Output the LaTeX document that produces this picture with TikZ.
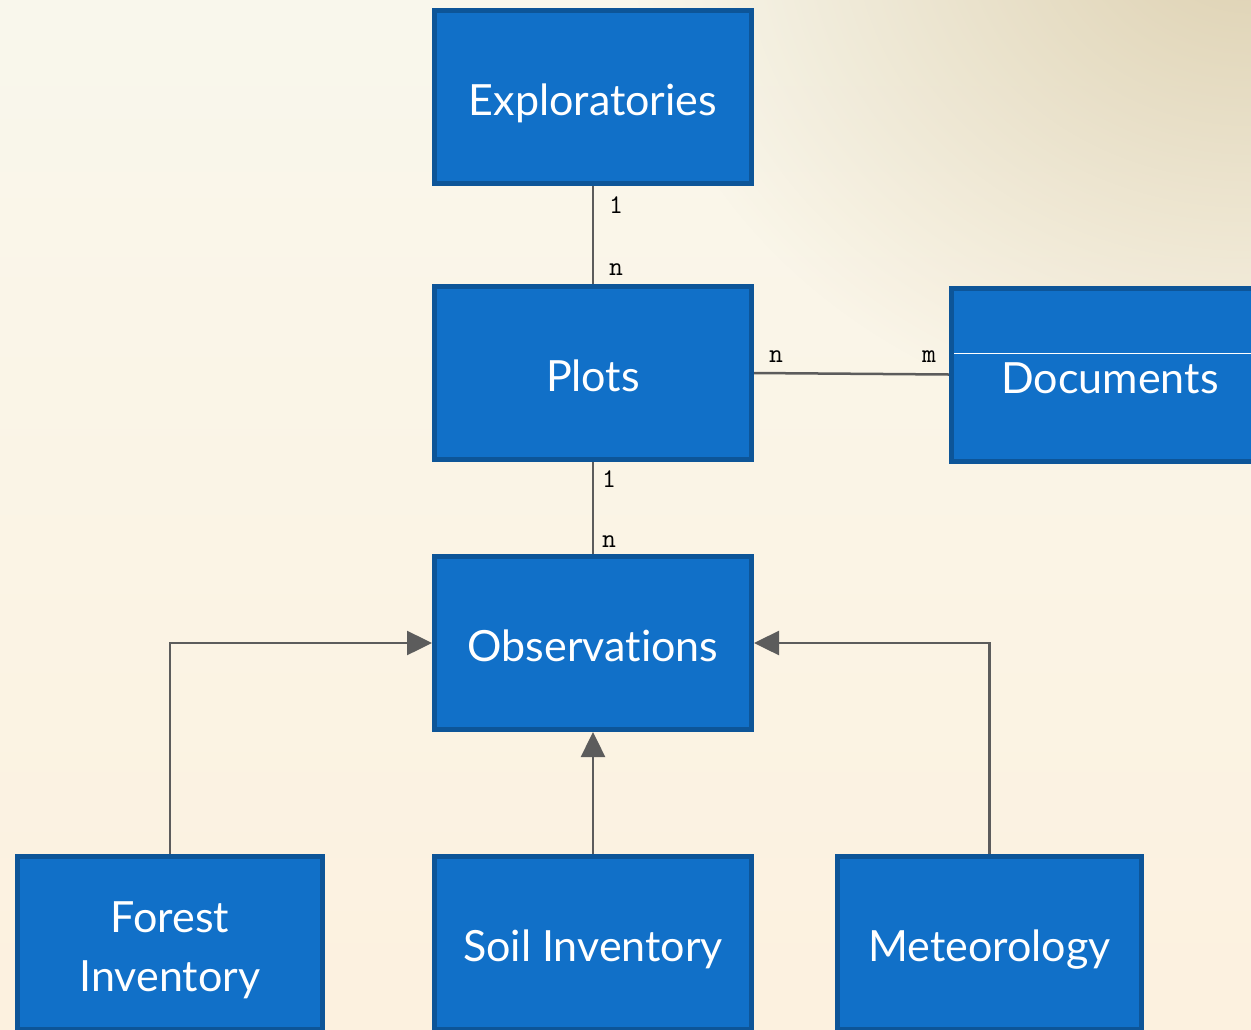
\documentclass[tikz,border=0pt]{standalone}
\usepackage{fontspec}
\setmainfont[Ligatures={CommonOff}]{Lato}
\usetikzlibrary{arrows.meta,fadings,calc}

\definecolor{boxfill}{HTML}{1170C8}
\definecolor{boxedge}{HTML}{0D5598}
\definecolor{linkgray}{HTML}{5C5C5C}
\definecolor{bgtop}{HTML}{F9F7EC}
\definecolor{bgbottom}{HTML}{FCF1DF}
\definecolor{bgtan}{HTML}{DDD0B0}

\tikzfading[name=glowfade, inner color=transparent!0, outer color=transparent!100]

\tikzset{
  entity/.style={draw=boxedge, line width=5pt, fill=boxfill, text=white,
    minimum width=317pt, minimum height=173pt, inner sep=0pt,
    font=\fontsize{43}{59}\selectfont, align=center,
    text height=37pt, text depth=0pt},
  link/.style={draw=linkgray, line width=2.5pt},
  inherit/.style={link, -{Triangle[length=25pt, width=24pt]}},
  mult/.style={font=\ttfamily\fontsize{27}{27}\selectfont, text=black, inner sep=0pt}
}

\begin{document}
\begin{tikzpicture}[x=1pt, y=-1pt]
  \useasboundingbox (0,0) rectangle (1251,1029);
  \clip (0,0) rectangle (1251,1029);

  % warm paper background with a tan glow in the upper right
  \shade[top color=bgtop, bottom color=bgbottom] (0,0) rectangle (1251,1029);
  \fill[bgtan, path fading=glowfade] (1251,-80) ellipse (620 and 520);

  % entities
  \node[entity] (expl) at (593,97) {Exploratories};
  \node[entity] (plots) at (593,373) {Plots};
  \node[entity] (docs) at (1110,374.5) {Documents};
  \node[entity] (obs) at (593,643) {Observations};
  \node[entity, minimum width=305pt, text height=96pt] (forest) at (170,943) {Forest\\Inventory};
  \node[entity] (soil) at (593,943) {Soil Inventory};
  \node[entity, minimum width=304pt] (met) at (989.5,943) {Meteorology};

  % divider inside the documents box
  \draw[white, line width=1.3pt] ($(docs.north west)+(5,68)$) -- ($(docs.north east)+(0,68)$);

  % associations with multiplicities
  \draw[link] (expl) -- (plots);
  \node[mult] at (616,205) {1};
  \node[mult] at (616,270) {n};

  \draw[link] (plots.east) -- (docs.west);
  \node[mult] at (776,357) {n};
  \node[mult] at (929,357) {m};

  \draw[link] (plots) -- (obs);
  \node[mult] at (609,479) {1};
  \node[mult] at (609,542) {n};

  % specialisations of observations
  \draw[inherit] (forest.north) |- (obs.west);
  \draw[inherit] (soil.north) -- (obs.south);
  \draw[inherit] (met.north) |- (obs.east);
\end{tikzpicture}
\end{document}
